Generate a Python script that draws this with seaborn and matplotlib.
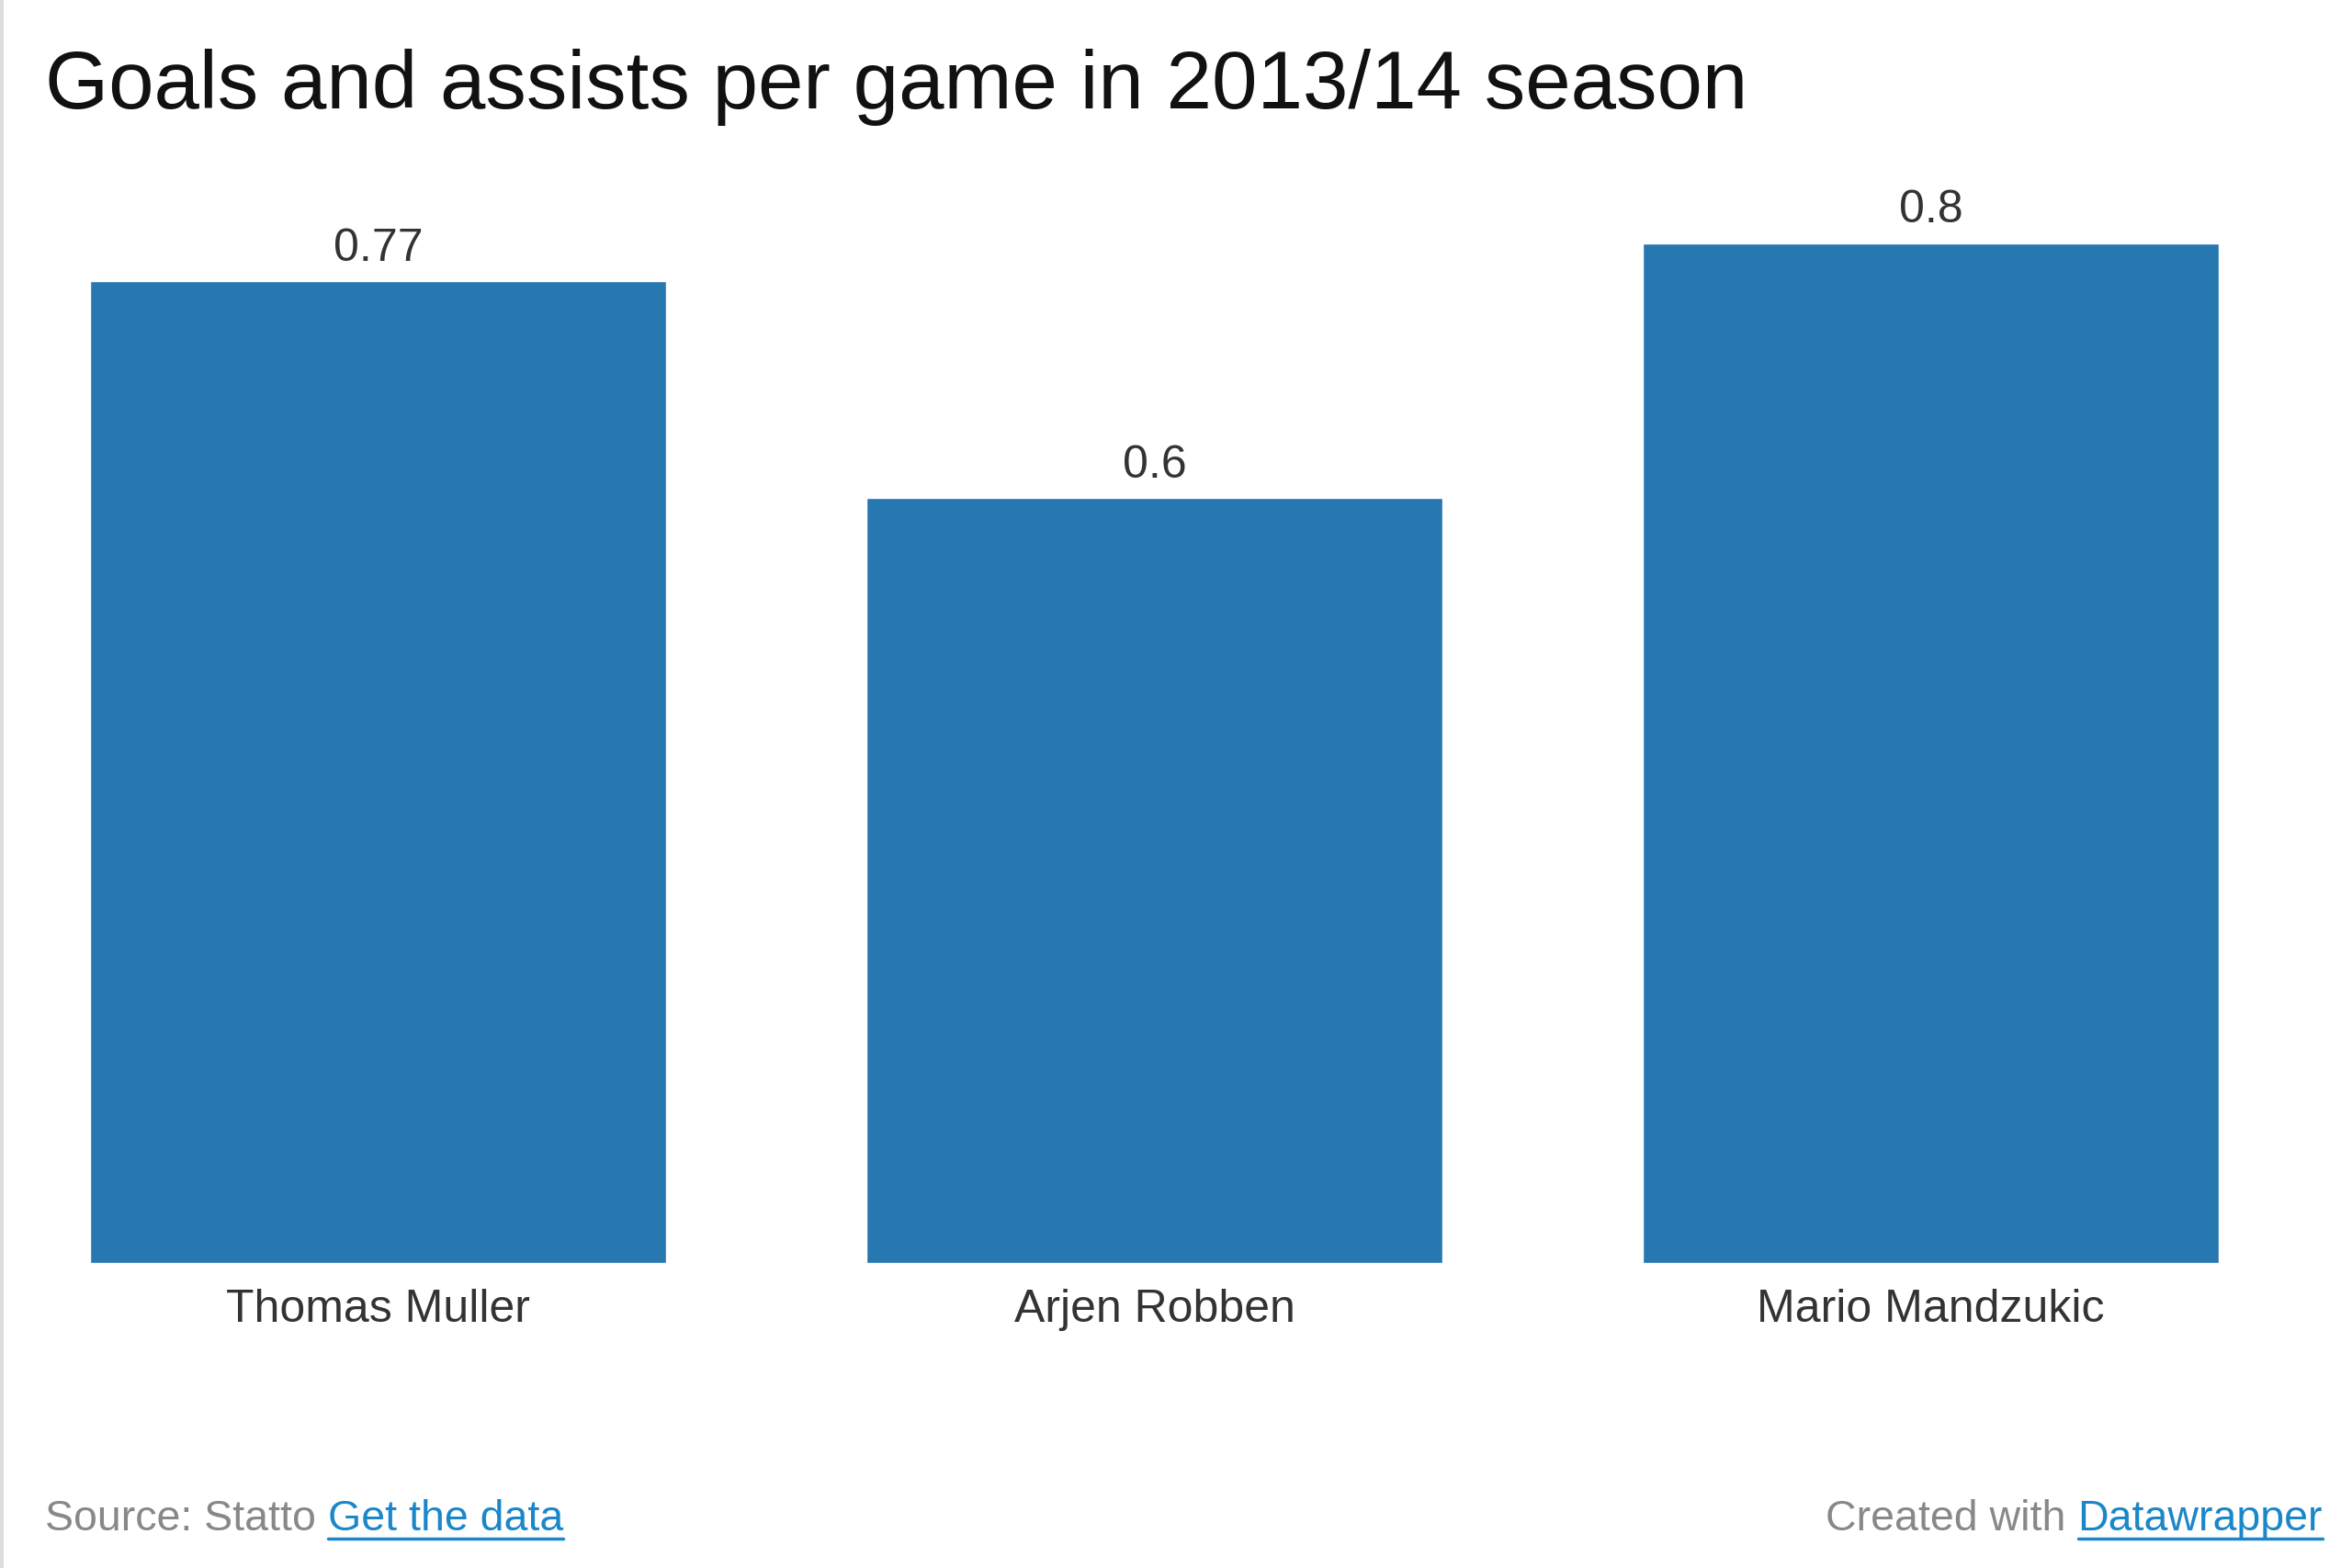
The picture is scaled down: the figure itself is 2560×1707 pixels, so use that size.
import matplotlib
matplotlib.use("Agg")
import matplotlib.pyplot as plt
import seaborn as sns
import pandas as pd
from matplotlib.lines import Line2D

players = ["Thomas Muller", "Arjen Robben", "Mario Mandzukic"]
values = [0.77, 0.6, 0.8]
value_labels = ["0.77", "0.6", "0.8"]

title = "Goals and assists per game in 2013/14 season"
source_text = "Source: Statto "
link_text = "Get the data"
credit_text = "Created with "
credit_link = "Datawrapper"

sns.set_theme(style="white")
plt.rcParams["font.family"] = ["Liberation Sans", "DejaVu Sans"]

W, H = 2560, 1707
fig = plt.figure(figsize=(W / 100, H / 100), dpi=100)
fig.patch.set_facecolor("white")

ax = fig.add_axes([98 / W, 1 - 1375 / H, (2415 - 98) / W, (1375 - 264.5) / H])
df = pd.DataFrame({"player": players, "value": values})
sns.barplot(data=df, x="player", y="value", color="#2777B1", saturation=1,
            width=0.742, ax=ax)
ax.set_xlim(-0.371, 2.371)
ax.set_ylim(0, 0.8)
ax.set_xlabel("")
ax.set_ylabel("")
ax.set_yticks([])
for sp in ax.spines.values():
    sp.set_visible(False)
ax.tick_params(axis="x", length=0, pad=20, labelsize=36, labelcolor="#333333")
ax.set_facecolor("white")

for i, (v, lab) in enumerate(zip(values, value_labels)):
    ax.annotate(lab, xy=(i, v), xytext=(0, 16), textcoords="offset points",
                ha="center", va="baseline", fontsize=36, color="#333333")

fig.text(49 / W, 1 - 117.6 / H, title, ha="left", va="baseline",
         fontsize=64, color="#111111")

# footer
fs = 33.5
y_foot = 1 - 1666 / H
renderer = fig.canvas.get_renderer()
t1 = fig.text(49 / W, y_foot, source_text, ha="left", va="baseline",
              fontsize=fs, color="#888888")
bb1 = t1.get_window_extent(renderer=renderer)
t2 = fig.text(bb1.x1 / W, y_foot, link_text, ha="left", va="baseline",
              fontsize=fs, color="#1B87C9")
bb2 = t2.get_window_extent(renderer=renderer)
uy = (1666 + 9) 
fig.add_artist(Line2D([bb2.x0 / W, bb2.x1 / W], [1 - uy / H, 1 - uy / H],
                      color="#1B87C9", lw=2.5, transform=fig.transFigure))

t4 = fig.text(2528 / W, y_foot, credit_link, ha="right", va="baseline",
              fontsize=fs, color="#1B87C9")
bb4 = t4.get_window_extent(renderer=renderer)
fig.text(bb4.x0 / W, y_foot, credit_text, ha="right", va="baseline",
         fontsize=fs, color="#888888")
fig.add_artist(Line2D([bb4.x0 / W, bb4.x1 / W], [1 - uy / H, 1 - uy / H],
                      color="#1B87C9", lw=2.5, transform=fig.transFigure))

# light left border
fig.add_artist(Line2D([1.5 / W, 1.5 / W], [0, 1], color="#DDDDDD", lw=3,
                      transform=fig.transFigure))

fig.savefig("out.png", dpi=100, facecolor="white")
